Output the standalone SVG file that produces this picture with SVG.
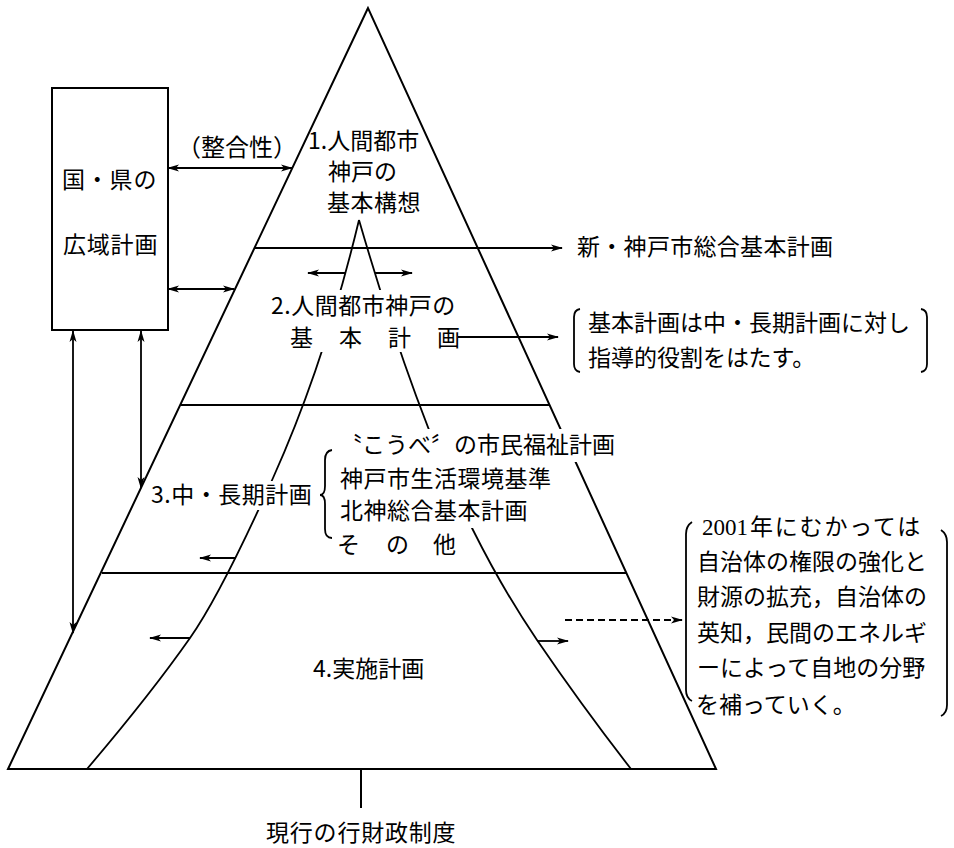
<svg xmlns="http://www.w3.org/2000/svg" width="954" height="848" viewBox="0 0 954 848">
<style>
  .t{font-family:"Noto Sans CJK JP","Noto Sans",sans-serif;font-size:23px;fill:#000;}
  .ln{fill:none;stroke:#000;stroke-width:2;}
  .cv{fill:none;stroke:#000;stroke-width:1.8;}
  .ar{fill:none;stroke:#000;stroke-width:1.8;marker-end:url(#ah);}
  .ar2{fill:none;stroke:#000;stroke-width:1.8;marker-start:url(#ah);marker-end:url(#ah);}
  .ko{fill:#fff;stroke:none;}
</style>
<defs>
  <marker id="ah" viewBox="0 0 12 8" refX="11" refY="4" markerWidth="12" markerHeight="8" markerUnits="userSpaceOnUse" orient="auto-start-reverse">
    <path d="M0,0.5 L12,4 L0,7.5 L3,4 z" fill="#000"/>
  </marker>
</defs>
<rect width="954" height="848" fill="#fff"/>

<g id="pyramid">
  <path class="ln" d="M368,8 L8,769 L716,769 Z"/>
  <line class="ln" x1="181" y1="405" x2="550" y2="405"/>
  <line class="ln" x1="102" y1="573" x2="626" y2="573"/>
  <line class="ln" x1="361" y1="769" x2="361" y2="808"/>
</g>

<g id="box-national">
  <rect class="ln" x="52" y="88" width="116" height="242"/>
</g>

<g id="connectors">
  <path class="cv" d="M359,220 Q324.6,363.3 273,478 Q220.8,594 190,638 Q151,693.7 87,769"/>
  <path class="cv" d="M359,220 Q415.6,415 473,530 Q503,590 537,640 Q582,706 631,769"/>
  <line class="ar2" x1="168" y1="168" x2="292" y2="168"/>
  <line class="ar2" x1="168" y1="289" x2="234" y2="289"/>
  <line class="ar2" x1="73" y1="331" x2="73" y2="633"/>
  <line class="ar2" x1="141" y1="331" x2="141" y2="488"/>
  <line class="ar" x1="255" y1="248" x2="562" y2="248"/>
  <line class="ar" x1="458" y1="337" x2="558" y2="337"/>
  <line class="ar" x1="345" y1="273" x2="308" y2="273"/>
  <line class="ar" x1="375" y1="273" x2="412" y2="273"/>
  <line class="ar" x1="236" y1="558" x2="200" y2="558"/>
  <line class="ar" x1="190" y1="638" x2="150" y2="638"/>
  <line class="ar" x1="537" y1="641" x2="568" y2="641"/>
  <line class="ar" x1="565" y1="620" x2="682" y2="620" stroke-dasharray="7 4"/>
</g>

<g id="label-national">
  <text class="t" x="62" y="188" letter-spacing="0.8">国・県の</text>
  <text class="t" x="63" y="253" letter-spacing="0.8">広域計画</text>
</g>

<g id="label-consistency">
  <text class="t" x="177" y="156" style="font-size:24px">（整合性）</text>
</g>

<g id="level1">
  <text class="t" x="308" y="149">1.人間都市</text>
  <text class="t" x="328" y="180">神戸の</text>
  <text class="t" x="327" y="211" letter-spacing="0.5">基本構想</text>
</g>

<g id="label-new-plan">
  <text class="t" x="577" y="255" letter-spacing="0.3">新・神戸市総合基本計画</text>
</g>

<g id="level2">
  <rect class="ko" x="268" y="290" width="190" height="30"/>
  <rect class="ko" x="286" y="320" width="172" height="32"/>
  <text class="t" x="271" y="314" letter-spacing="0.5">2.人間都市神戸の</text>
  <text class="t" x="290 339 388 437" y="346">基本計画</text>
</g>

<g id="note-guidance">
  <path class="cv" d="M580,309 Q574,310 574,317 L574,364 Q574,371 580,372"/>
  <path class="cv" d="M921,309 Q927,310 927,317 L927,364 Q927,371 921,372"/>
  <text class="t" x="588" y="331">基本計画は中・長期計画に対し</text>
  <text class="t" x="588" y="366">指導的役割をはたす。</text>
</g>

<g id="level3">
  <rect class="ko" x="149" y="481" width="164" height="29"/>
  <text class="t" x="151" y="503" letter-spacing="0.5">3.中・長期計画</text>
  <path class="cv" d="M332,450 Q325,451 325,460 L325,486 Q325,495 320,495 Q325,495 325,504 L325,529 Q325,538 332,538"/>
</g>

<g id="level3-list">
  <rect class="ko" x="337" y="429" width="278" height="33"/>
  <rect class="ko" x="337" y="462" width="217" height="33"/>
  <rect class="ko" x="337" y="495" width="195" height="33"/>
  <text class="t" x="339" y="453">〝こうべ〞の市民福祉計画</text>
  <text class="t" x="340" y="487" letter-spacing="0.5">神戸市生活環境基準</text>
  <text class="t" x="340" y="519" letter-spacing="0.5">北神総合基本計画</text>
  <text class="t" x="337 386 433" y="553">その他</text>
</g>

<g id="level4">
  <text class="t" x="313" y="677">4.実施計画</text>
</g>

<g id="note-2001">
  <path class="cv" d="M692,522 Q686,526 686,534 L686,690 Q686,698 692,701"/>
  <path class="cv" d="M941,530 Q947,534 947,542 L947,705 Q947,713 941,716"/>
  <text class="t" x="702" y="535"><tspan style="font-family:'Liberation Serif',serif;font-size:23px">2001</tspan><tspan x="750" letter-spacing="1.8">年にむかっては</tspan></text>
  <text class="t" x="697" y="570">自治体の権限の強化と</text>
  <text class="t" x="697" y="605">財源の拡充，自治体の</text>
  <text class="t" x="697" y="641">英知，民間のエネルギ</text>
  <text class="t" x="697" y="676">ーによって自地の分野</text>
  <text class="t" x="696" y="713">を補っていく。</text>
</g>

<g id="label-base">
  <text class="t" x="266" y="841" letter-spacing="0.8">現行の行財政制度</text>
</g>
</svg>
